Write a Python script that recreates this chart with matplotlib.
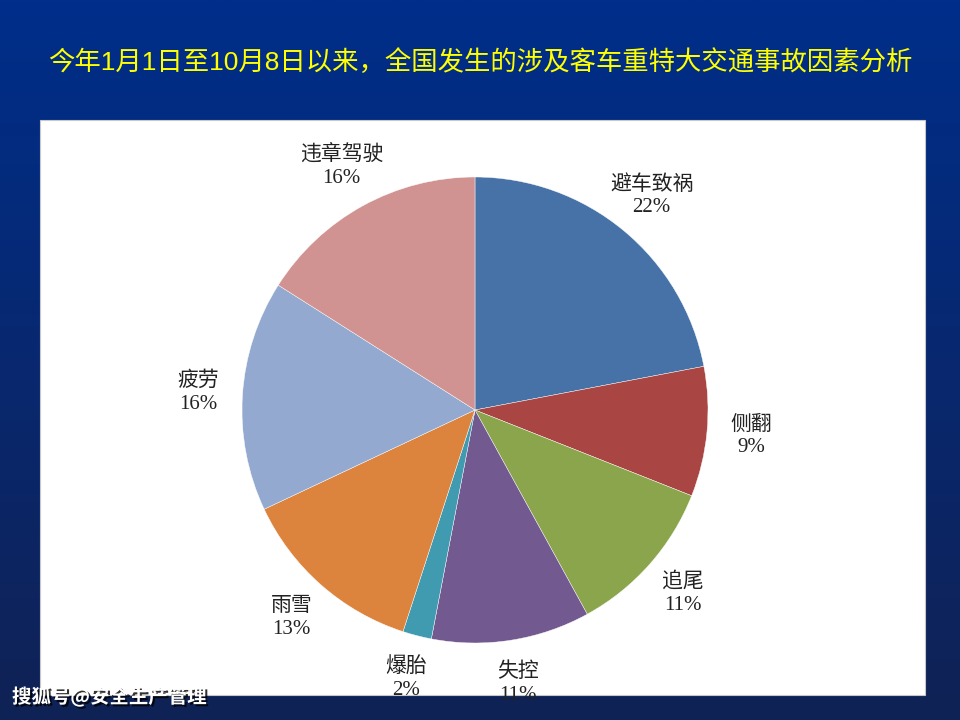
import numpy as np
import matplotlib.pyplot as plt
import matplotlib.patheffects as pe
from matplotlib.patches import Rectangle

plt.rcParams['font.family'] = ['Liberation Serif', 'Noto Sans CJK SC']

# ~~~~~~ data ~~~~~~
causes = ['避车致祸', '侧翻', '追尾', '失控', '爆胎', '雨雪', '疲劳', '违章驾驶']
shares = [22, 9, 11, 11, 2, 13, 16, 16]
colors = ['#4672a8', '#a94543', '#8aa54c', '#72598f', '#409bb0',
          '#dc843e', '#94a9d0', '#d19392']

title = '今年1月1日至10月8日以来，全国发生的涉及客车重特大交通事故因素分析'
watermark = '搜狐号@安全生产管理'

fig = plt.figure(figsize=(9.6, 7.2), dpi=100)

# background gradient
bg = fig.add_axes([0, 0, 1, 1])
grad = np.linspace(0, 1, 256).reshape(-1, 1)
top = np.array([0x00, 0x2e, 0x8a]) / 255
bot = np.array([0x10, 0x22, 0x55]) / 255
img = top + (bot - top) * grad[:, :, None]
bg.imshow(img, aspect='auto', extent=[0, 1, 0, 1])
bg.set_axis_off()

# white panel
bg.add_patch(Rectangle((40 / 960, 1 - 695 / 720), 885 / 960, 575 / 720,
                       facecolor='white', edgecolor='#c8c8c8', lw=0.8,
                       transform=bg.transAxes, zorder=2))

fig.text(0.5, 1 - 62 / 720, title, color='#ffff00', fontsize=19,
         ha='center', va='center',
         family=['Liberation Sans', 'Noto Sans CJK SC'])

# pie
r = 233
cx, cy = 475, 410
ax = fig.add_axes([(cx - r) / 960, (720 - cy - r) / 720, 2 * r / 960, 2 * r / 720])
labels = [f'{c}\n{s}%' for c, s in zip(causes, shares)]
wedges, texts = ax.pie(shares, colors=colors, startangle=90, counterclock=False,
                       labels=labels, labeldistance=1.19,
                       wedgeprops=dict(edgecolor='white', linewidth=0.3),
                       textprops=dict(fontsize=15, color='#222222', linespacing=1.25))
for t in texts:
    t.set_ha('center')
    t.set_va('center')
ax.set_xlim(-1, 1)
ax.set_ylim(-1, 1)
ax.set_axis_off()

fig.text(12 / 960, 1 - 697 / 720, watermark, color='white', fontsize=14,
         fontweight='bold', ha='left', va='center', zorder=10,
         family=['Noto Sans CJK SC'],
         path_effects=[pe.withSimplePatchShadow(offset=(1.5, -1.5),
                                                shadow_rgbFace='black', alpha=0.8)])

fig.savefig('out.png', dpi=100)
